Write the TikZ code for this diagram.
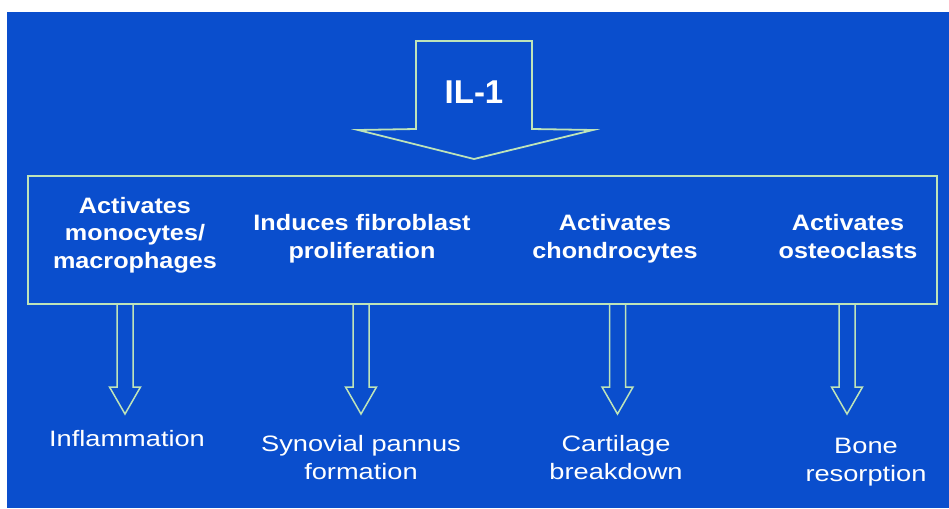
\documentclass[tikz,border=0pt]{standalone}
\usepackage{fontspec}
\setmainfont{Liberation Sans}
\newfontfamily\topfont[FakeStretch=1.13]{Liberation Sans}
\newfontfamily\botfont[FakeStretch=1.22]{Liberation Sans}
\definecolor{slideblue}{RGB}{10,78,205}
\definecolor{outl}{RGB}{190,228,185}
\tikzset{
  toplabel/.style={text=white, align=center, anchor=base, inner sep=0pt,
    font=\topfont\bfseries\fontsize{22.3}{27.5}\selectfont},
  botlabel/.style={text=white, align=center, anchor=base, inner sep=0pt,
    font=\botfont\fontsize{22.3}{28}\selectfont},
  bigarrow/.style={draw=outl, line width=1.8pt, line join=miter},
  smallarrow/.style={draw=outl, line width=1.5pt, line join=miter},
}
\begin{document}
\begin{tikzpicture}[x=1pt,y=-1pt]
\useasboundingbox (0,0) rectangle (949,508);
\fill[white] (0,0) rectangle (949,508);
\fill[slideblue] (7,12) rectangle (949,508);
% big IL-1 arrow
\draw[bigarrow] (416,41) -- (532,41) -- (532,129) -- (593,130) -- (474,159) -- (358,130) -- (416,129) -- cycle;
\node[text=white, font=\bfseries\fontsize{33}{36}\selectfont, anchor=base, inner sep=0pt] (il) at (474,103) {IL-1};
% box
\draw[outl, line width=1.6pt] (28,176) rectangle (937,304);
\node (box) at (482,240) {};
% labels in box (anchor=base is the last line's baseline)
\node[toplabel] (t1) at (135,268) {Activates\\monocytes/\\macrophages};
\node[toplabel] (t2) at (362,258) {Induces fibroblast\\proliferation};
\node[toplabel] (t3) at (615,258) {Activates\\chondrocytes};
\node[toplabel] (t4) at (848,258) {Activates\\osteoclasts};
% small arrows
\foreach \cx/\n in {125/a1,361/a2,617.5/a3,847/a4}{
  \draw[smallarrow] (\cx-8,304) -- (\cx-8,387) -- (\cx-15.5,387) -- (\cx,414) -- (\cx+15.5,387) -- (\cx+8,387) -- (\cx+8,304);
}
% bottom labels
\node[botlabel] (b1) at (127,446) {Inflammation};
\node[botlabel] (b2) at (361,479) {Synovial pannus\\formation};
\node[botlabel] (b3) at (616,479) {Cartilage\\breakdown};
\node[botlabel] (b4) at (866,481) {Bone\\resorption};
\end{tikzpicture}
\end{document}
